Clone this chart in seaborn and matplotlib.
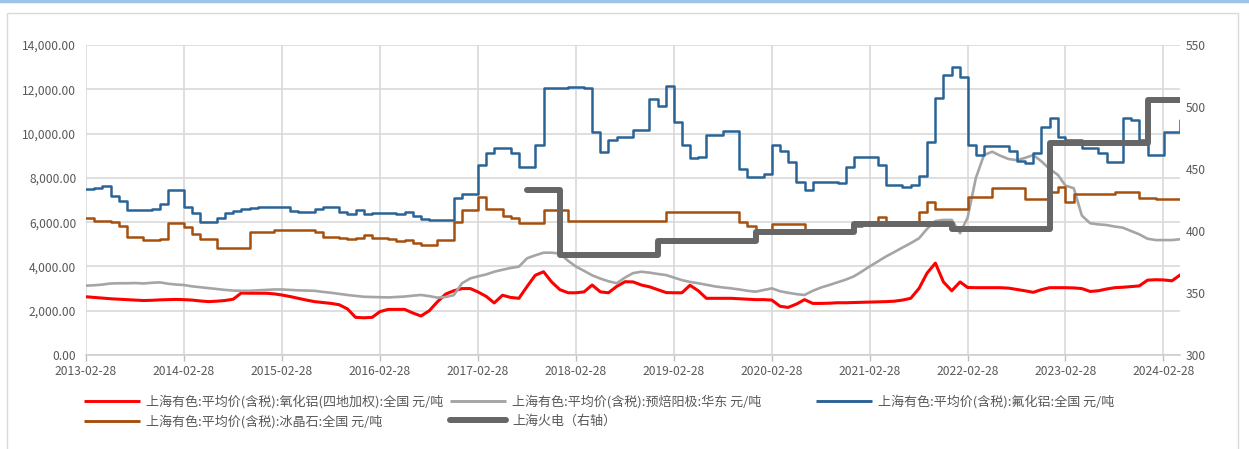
import matplotlib
matplotlib.use("Agg")
import matplotlib.pyplot as plt
import pandas as pd
import seaborn as sns
from matplotlib.lines import Line2D
from matplotlib.patches import Rectangle
from matplotlib.ticker import FuncFormatter

W, H = 1249, 449

# monthly series, 2013-02 .. 2024-04 (month ends)
months = pd.date_range("2013-02-28", "2024-04-30", freq="ME")

# 上海有色:平均价(含税):氧化铝(四地加权):全国 元/吨
alumina = [
    2630, 2600, 2570, 2540, 2520, 2500, 2480, 2460, 2470, 2490,
    2500, 2510, 2500, 2480, 2440, 2410, 2430, 2460, 2520, 2800,
    2790, 2790, 2790, 2760, 2710, 2640, 2560, 2480, 2410, 2370,
    2330, 2270, 2080, 1700, 1680, 1700, 1960, 2060, 2060, 2060,
    1900, 1760, 2000, 2400, 2750, 2900, 3000, 3000, 2850, 2650,
    2350, 2700, 2600, 2560, 3100, 3600, 3760, 3300, 2950, 2810,
    2810, 2850, 3160, 2850, 2810, 3100, 3310, 3300, 3160, 3080,
    2950, 2820, 2810, 2810, 3150, 2900, 2560, 2560, 2560, 2560,
    2540, 2520, 2500, 2500, 2480, 2200, 2150, 2300, 2500, 2330,
    2330, 2340, 2360, 2360, 2370, 2380, 2390, 2400, 2410, 2430,
    2480, 2560, 3010, 3700, 4150, 3300, 2900, 3300, 3050, 3040,
    3040, 3040, 3040, 3020, 2960, 2900, 2830, 2950, 3040, 3040,
    3040, 3030, 3000, 2870, 2900, 2980, 3040, 3060, 3090, 3120,
    3380, 3400, 3390, 3350, 3610,
]

# 上海有色:平均价(含税):预焙阳极:华东 元/吨
anode = [
    3130, 3150, 3180, 3230, 3240, 3240, 3250, 3230, 3260, 3280,
    3220, 3180, 3160, 3100, 3060, 3020, 2980, 2940, 2910, 2900,
    2900, 2920, 2940, 2960, 2960, 2940, 2920, 2910, 2900, 2850,
    2810, 2760, 2710, 2670, 2630, 2620, 2610, 2600, 2620, 2640,
    2680, 2710, 2660, 2590, 2620, 2700, 3240, 3460, 3550, 3640,
    3760, 3850, 3930, 3990, 4370, 4500, 4620, 4620, 4580, 4250,
    4000, 3800, 3600, 3450, 3330, 3240, 3500, 3700, 3760, 3720,
    3660, 3610, 3500, 3380, 3300, 3240, 3170, 3100, 3050, 3010,
    2960, 2900, 2860, 2940, 3010, 2880, 2810, 2750, 2710, 2900,
    3050, 3160, 3280, 3400, 3550, 3780, 4000, 4230, 4450, 4650,
    4850, 5050, 5270, 5700, 6050, 6100, 6100, 5500, 6200, 8000,
    9030, 9180, 9000, 8850, 8800, 8900, 9030, 8750, 8400, 8130,
    7650, 7530, 6300, 5950, 5900, 5870, 5800, 5750, 5600, 5450,
    5250, 5190, 5190, 5190, 5230,
]

# 上海有色:平均价(含税):氟化铝:全国 元/吨
alf3 = [
    7500, 7550, 7620, 7200, 6950, 6550, 6550, 6550, 6600, 6800,
    7450, 7450, 6700, 6400, 6020, 6020, 6200, 6430, 6500, 6600,
    6650, 6700, 6700, 6700, 6700, 6500, 6480, 6480, 6600, 6700,
    6700, 6450, 6350, 6550, 6350, 6420, 6420, 6400, 6350, 6450,
    6300, 6150, 6100, 6100, 6100, 7080, 7260, 7260, 8580, 9110,
    9330, 9330, 9110, 8500, 8500, 9480, 12080, 12080, 12080, 12100,
    12100, 12050, 10090, 9180, 9710, 9860, 9860, 10160, 10160, 11560,
    11240, 12150, 10540, 9480, 8900, 8960, 9940, 9940, 10120, 10120,
    8400, 8020, 8020, 8170, 9500, 9200, 8700, 7800, 7450, 7830,
    7830, 7830, 7750, 8500, 8920, 8920, 8920, 8600, 7680, 7680,
    7570, 7680, 8100, 9600, 11590, 12650, 13000, 12570, 9500, 9030,
    9450, 9450, 9450, 9200, 8750, 8660, 9110, 10310, 10690, 9860,
    9710, 9710, 9330, 9330, 9100, 8730, 8730, 10690, 10600, 9700,
    9030, 9030, 10090, 10090, 10610,
]

# 上海有色:平均价(含税):冰晶石:全国 元/吨
cryolite = [
    6170, 6050, 6050, 6020, 5830, 5310, 5310, 5200, 5200, 5250,
    5950, 5950, 5800, 5480, 5240, 5240, 4820, 4820, 4820, 4820,
    5570, 5570, 5570, 5650, 5650, 5650, 5650, 5650, 5570, 5340,
    5340, 5300, 5260, 5300, 5420, 5270, 5270, 5250, 5150, 5200,
    5050, 4980, 4970, 5190, 5190, 6020, 6550, 6550, 7150, 6580,
    6580, 6300, 6170, 5950, 5950, 5950, 6550, 6550, 6550, 6050,
    6050, 6050, 6050, 6050, 6050, 6050, 6050, 6050, 6050, 6050,
    6050, 6440, 6440, 6440, 6440, 6440, 6440, 6440, 6440, 6440,
    6020, 5830, 5650, 5650, 5900, 5900, 5900, 5900, 5650, 5650,
    5650, 5650, 5650, 5650, 5830, 6020, 6020, 6250, 6020, 6020,
    6020, 6020, 6440, 6920, 6590, 6590, 6590, 6590, 7150, 7150,
    7150, 7560, 7560, 7560, 7560, 7050, 7050, 7050, 7380, 7600,
    6920, 7260, 7260, 7260, 7260, 7260, 7380, 7380, 7380, 7100,
    7100, 7050, 7050, 7050, 7050,
]

# 上海火电 (right axis), step values from each date on
power_dates = pd.to_datetime([
    "2017-09-01", "2018-01-01", "2019-01-01", "2020-01-01", "2021-01-01",
    "2022-01-01", "2023-01-01", "2024-01-01", "2024-04-30",
])
power = [433, 381, 392, 399, 406, 401.5, 471, 506, 506]

tick_dates = pd.to_datetime([f"{y}-02-28" for y in range(2013, 2025)])
left_ticks = list(range(0, 14001, 2000))
right_ticks = list(range(300, 551, 50))

labels = {
    "alumina": "上海有色:平均价(含税):氧化铝(四地加权):全国 元/吨",
    "anode": "上海有色:平均价(含税):预焙阳极:华东 元/吨",
    "alf3": "上海有色:平均价(含税):氟化铝:全国 元/吨",
    "cryolite": "上海有色:平均价(含税):冰晶石:全国 元/吨",
    "power": "上海火电（右轴）",
}
colors = {
    "alumina": "#ff0000",
    "anode": "#a5a5a5",
    "alf3": "#2a6496",
    "cryolite": "#a5500f",
    "power": "#666666",
}

df = pd.DataFrame({"date": months, "alumina": alumina, "anode": anode,
                   "alf3": alf3, "cryolite": cryolite})
pw = pd.DataFrame({"date": power_dates, "power": power})

sns.set_theme(style="whitegrid")
plt.rcParams["font.family"] = ["Noto Sans CJK SC", "DejaVu Sans"]

fig = plt.figure(figsize=(W / 100, H / 100), dpi=100)
ax = fig.add_axes([86 / W, 1 - 355 / H, (1180 - 86) / W, 310 / H])

sns.lineplot(data=df, x="date", y="alumina", ax=ax, color=colors["alumina"], lw=2.2)
sns.lineplot(data=df, x="date", y="anode", ax=ax, color=colors["anode"], lw=1.9)
sns.lineplot(data=df, x="date", y="alf3", ax=ax, color=colors["alf3"], lw=1.8,
             drawstyle="steps-post")
sns.lineplot(data=df, x="date", y="cryolite", ax=ax, color=colors["cryolite"], lw=1.8,
             drawstyle="steps-post")

ax2 = ax.twinx()
sns.lineplot(data=pw, x="date", y="power", ax=ax2, color=colors["power"], lw=4.3,
             drawstyle="steps-post", solid_capstyle="round")

ax.set_xlim(months[0], months[-1])
ax.set_ylim(0, 14000)
ax2.set_ylim(300, 550)
ax.set_xticks(tick_dates)
ax.set_xticklabels([d.strftime("%Y-%m-%d") for d in tick_dates])
ax.set_yticks(left_ticks)
ax.yaxis.set_major_formatter(FuncFormatter(lambda v, _: f"{v:,.2f}"))
ax2.set_yticks(right_ticks)

for a in (ax, ax2):
    a.set_xlabel("")
    a.set_ylabel("")
    for s in a.spines.values():
        s.set_visible(False)
ax.spines["bottom"].set_visible(True)
ax.spines["bottom"].set_color("#d0d0d0")
ax.grid(True, color="#d9d9d9", lw=1.2)
ax2.grid(False)
ax.tick_params(axis="x", length=4, width=1, color="#bfbfbf", labelsize=8.7,
               labelcolor="#595959", pad=3, bottom=True)
ax.tick_params(axis="y", length=0, labelsize=8.7, labelcolor="#595959", pad=7)
ax2.tick_params(axis="y", length=0, labelsize=8.7, labelcolor="#595959", pad=4)

# legend: three equal-width columns like the original
def column_legend(keys, x_px):
    handles = [Line2D([], [], color=colors[k], lw=(4.3 if k == "power" else 2.1),
                      solid_capstyle=("round" if k == "power" else "butt")) for k in keys]
    fig.legend(handles, [labels[k] for k in keys], loc="upper left",
               bbox_to_anchor=(x_px / W, 1 - 395 / H), frameon=False, fontsize=9.4,
               borderpad=0, borderaxespad=0, handlelength=4.3, handletextpad=0.45,
               labelspacing=0.45, labelcolor="#595959")

column_legend(["alumina", "cryolite"], 84)
column_legend(["anode", "power"], 450)
column_legend(["alf3"], 816)

# chart border and top strip
fig.add_artist(Rectangle((7 / W, -0.01), (1238 - 7) / W, 1.01 - 12.5 / H,
                         transform=fig.transFigure, fill=False,
                         edgecolor="#d9d9d9", lw=1))
fig.add_artist(Line2D([0, 1], [0.997, 0.997], transform=fig.transFigure,
                      color="#9dc3e6", lw=2.5))

fig.savefig("out.png", dpi=100)
